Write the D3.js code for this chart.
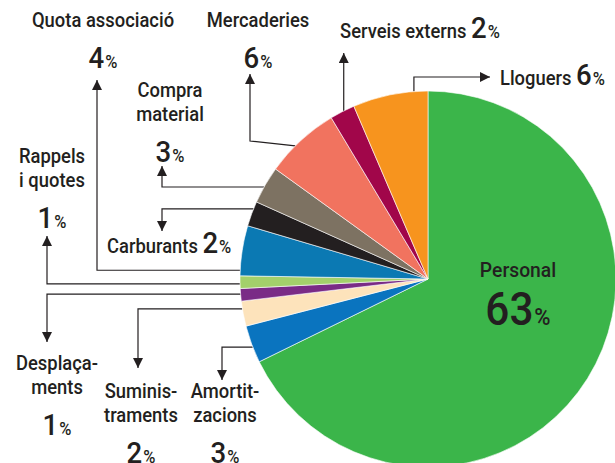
<!DOCTYPE html>
<html>
<head>
<meta charset="utf-8">
<script src="https://cdn.jsdelivr.net/npm/d3@7"></script>
<style>
    body { margin: 0; background: #fff; }
    #chart-area text { font-family: Roboto, "Liberation Sans", sans-serif; font-weight: 500; fill: #231f20; }
</style>
</head>
<body>
<div id="chart-area"></div>
<script>

// slices, clockwise from 12 o'clock
const categories = ["Personal", "Amortitzacions", "Subministraments", "Desplaçaments", "Rappels i quotes",
    "Quota associació", "Carburants", "Compra material", "Mercaderies", "Serveis externs", "Lloguers"];
const values = [63, 3, 2, 1, 1, 4, 2, 3, 6, 2, 6];
const labelLines = [["Personal"], ["Amortit-", "zacions"], ["Suminis-", "traments"], ["Desplaça-", "ments"],
    ["Rappels", "i quotes"], ["Quota associació"], ["Carburants"], ["Compra", "material"],
    ["Mercaderies"], ["Serveis externs"], ["Lloguers"]];
const sliceColors = ["#3bb54a", "#0a74bf", "#fde3bb", "#7a2b86", "#a3d06b",
    "#0b79b3", "#231f20", "#7d7262", "#f1735f", "#a1064a", "#f7941e"];


class PieChart {

    constructor(parentElement) {
        this.parentElement = parentElement;
        this.initVis();
    }

    initVis() {
        let vis = this;

        vis.width = 615;
        vis.height = 463;
        vis.squeeze = 0.92;   // condensed look

        vis.svg = d3.select("#" + vis.parentElement).append("svg")
            .attr("width", vis.width)
            .attr("height", vis.height);

        // arrow head
        vis.svg.append("defs").append("marker")
            .attr("id", "arrow")
            .attr("viewBox", "0 0 10 10")
            .attr("refX", 10)
            .attr("refY", 5)
            .attr("markerUnits", "userSpaceOnUse")
            .attr("markerWidth", 13)
            .attr("markerHeight", 10)
            .attr("orient", "auto")
            .append("path")
            .attr("d", "M0,0L10,5L0,10Z")
            .attr("fill", "#231f20");

        vis.cx = 428;
        vis.cy = 279;
        vis.outerRadius = 188;

        vis.pie = d3.pie().sort(null).value(d => d.value);
        vis.arc = d3.arc().innerRadius(0).outerRadius(vis.outerRadius);

        vis.lineGroup = vis.svg.append("g").attr("class", "connectors");
        vis.pieGroup = vis.svg.append("g")
            .attr("transform", "translate(" + vis.cx + "," + vis.cy + ")");
        vis.labelGroup = vis.svg.append("g").attr("class", "labels");

        // where each label sits and how its connector runs
        // t = point along slice edge, ex/ey = elbow, tip = arrow end
        vis.layout = {
            "Personal":         {x: 518, y: 277, anchor: "middle", big: true},
            "Amortitzacions":   {x: 225, y: 398, anchor: "middle", t: 0.42, path: "hv", ex: 222, tip: 380},
            "Subministraments": {x: 141, y: 398, anchor: "middle", t: 0.69, path: "hv", ex: 138, tip: 368},
            "Desplaçaments":    {x: 57,  y: 370, anchor: "middle", t: 0.56, path: "hv", ex: 47,  tip: 342},
            "Rappels i quotes": {x: 52,  y: 163, anchor: "middle", t: 0.36, path: "hv", ex: 47,  tip: 236},
            "Quota associació": {x: 103, y: 27,  anchor: "middle", t: 0.11, path: "hv", ex: 97,  tip: 80},
            "Carburants":       {x: 107, y: 253, anchor: "start", inline: true, t: 0.70, path: "hv", ex: 162, tip: 231},
            "Compra material":  {x: 170, y: 97,  anchor: "middle", t: 0.44, path: "hv", ex: 162, tip: 166},
            "Mercaderies":      {x: 258, y: 27,  anchor: "middle", t: 0.40, path: "sv", ex: 250, ey: 141, tip: 74},
            "Serveis externs":  {x: 340, y: 38,  anchor: "start", inline: true, t: 0.56, path: "v", tip: 53},
            "Lloguers":         {x: 500, y: 85,  anchor: "start", inline: true, t: 0.815, path: "vh", ey: 77, tip: 490}
        };

        vis.wrangleData();
    }

    wrangleData() {
        let vis = this;

        vis.displayData = categories.map((name, i) => ({
            name: name,
            value: values[i],
            color: sliceColors[i],
            lines: labelLines[i]
        }));

        vis.updateVis();
    }

    updateVis() {
        let vis = this;

        let arcs = vis.pie(vis.displayData);

        vis.pieGroup.selectAll(".arc")
            .data(arcs)
            .enter()
            .append("path")
            .attr("class", "arc")
            .attr("d", vis.arc)
            .attr("fill", d => d.data.color)
            .attr("stroke", "#ffffff")
            .attr("stroke-width", 0.6);

        // connectors
        arcs.forEach(d => {
            let l = vis.layout[d.data.name];
            if (l.t === undefined) return;
            let a = d.startAngle + l.t * (d.endAngle - d.startAngle);
            let sx = vis.cx + vis.outerRadius * Math.sin(a);
            let sy = vis.cy - vis.outerRadius * Math.cos(a);
            let pts;
            if (l.path === "hv") pts = [[sx, sy], [l.ex, sy], [l.ex, l.tip]];
            else if (l.path === "sv") pts = [[sx, sy], [l.ex, l.ey], [l.ex, l.tip]];
            else if (l.path === "v") pts = [[sx, sy], [sx, l.tip]];
            else pts = [[sx, sy], [sx, l.ey], [l.tip, l.ey]];

            vis.lineGroup.append("path")
                .attr("d", d3.line()(pts))
                .attr("fill", "none")
                .attr("stroke", "#231f20")
                .attr("stroke-width", 1.2)
                .attr("marker-end", "url(#arrow)");
        });

        // labels
        arcs.forEach(d => {
            let l = vis.layout[d.data.name];
            let labelSize = 20, numSize = 30, pctSize = 18, lineH = 24, numGap = 41;
            if (l.big) { labelSize = 21; numSize = 46; pctSize = 24; numGap = 48; }

            let txt = vis.labelGroup.append("text")
                .attr("transform", "translate(" + l.x + "," + l.y + ") scale(" + vis.squeeze + ",1)")
                .attr("text-anchor", l.anchor)
                .style("font-size", labelSize + "px");

            d.data.lines.forEach((line, i) => {
                txt.append("tspan")
                    .attr("x", 0)
                    .attr("dy", i === 0 ? 0 : lineH)
                    .text(line);
            });

            let numY = l.y + (d.data.lines.length - 1) * lineH + numGap;
            let num = l.inline ? txt : vis.labelGroup.append("text")
                .attr("transform", "translate(" + l.x + "," + numY + ") scale(" + vis.squeeze + ",1)")
                .attr("text-anchor", "middle");

            num.append("tspan")
                .attr("dx", l.inline ? 5 : 0)
                .style("font-size", numSize + "px")
                .text(d.data.value);
            num.append("tspan")
                .attr("dx", 1)
                .style("font-size", pctSize + "px")
                .text("%");
        });
    }
}

new PieChart("chart-area");

</script>
</body>
</html>
